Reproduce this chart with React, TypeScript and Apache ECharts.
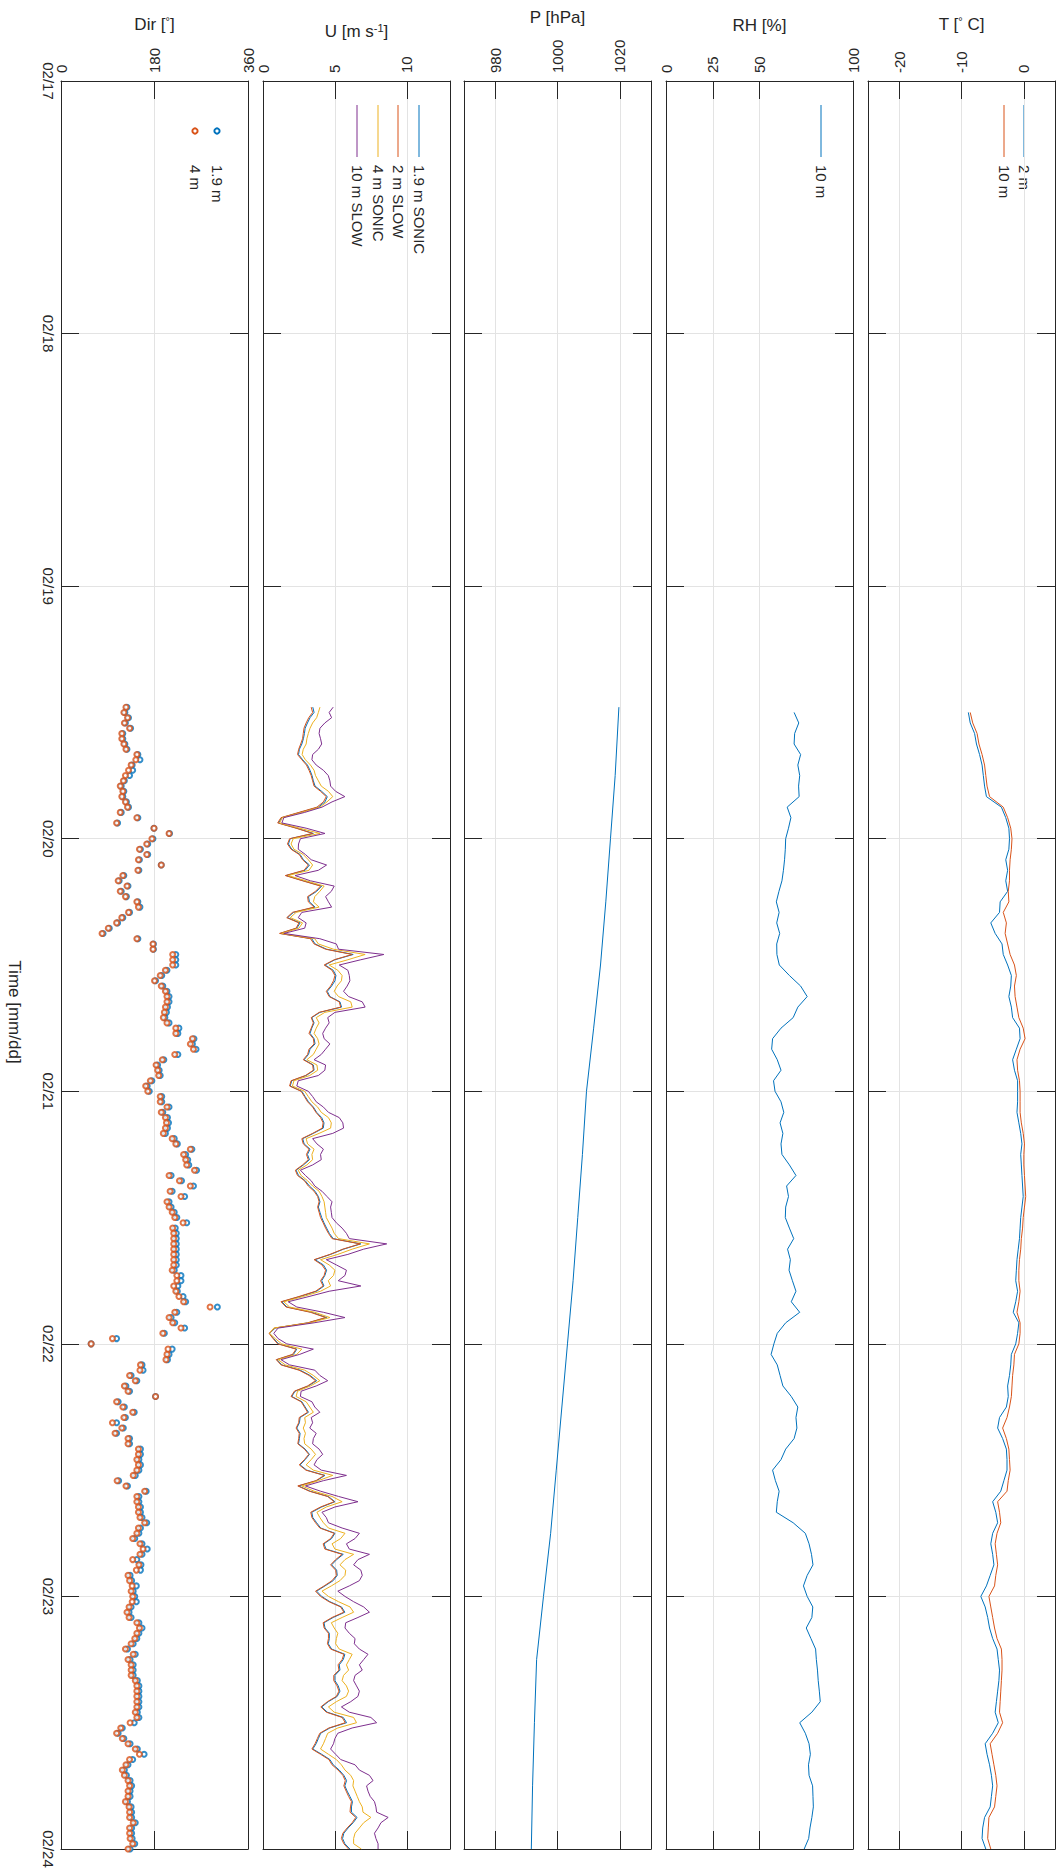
import React, { useEffect, useRef } from "react";
import * as echarts from "echarts";

// time axis: hours since 02/17 00:00
const DAY_LABELS = ["02/17", "02/18", "02/19", "02/20", "02/21", "02/22", "02/23", "02/24"];
const HALF_HOUR_START = 59.5;
const HALF_HOUR_STEP = 0.5;
const HOURLY_START = 60;
const HOURLY_STEP = 1;

const T_2M = [
  -8.9, -8.6, -7.9, -7.6, -7.1, -6.7, -6.5, -6.3, -6.0, -3.6,
  -2.9, -2.4, -2.3, -2.4, -2.9, -2.6, -2.9, -2.6, -3.8, -3.9,
  -5.3, -4.6, -3.5, -3.3, -2.6, -2.0, -2.1, -2.4, -2.0, -1.8,
  -0.7, -0.6, -1.2, -1.8, -1.5, -1.0, -1.0, -1.0, -1.1, -0.8,
  -0.5, -0.3, -0.5, -0.4, -0.3, -0.2, -0.1, -0.3, -0.5, -0.6,
  -0.7, -0.9, -1.1, -1.2, -1.3, -1.0, -1.3, -1.7, -0.8, -1.0,
  -1.3, -2.0, -2.1, -2.3, -2.6, -2.5, -2.8, -3.9, -4.2, -3.4,
  -2.8, -2.7, -2.7, -3.2, -3.7, -5.0, -4.5, -4.2, -5.0, -5.3,
  -5.0, -4.8, -5.4, -6.0, -6.9, -6.2, -5.8, -5.5, -5.0, -4.3,
  -4.1, -3.9, -4.0, -4.2, -4.4, -4.6, -4.1, -5.0, -6.2, -5.9,
  -5.5, -5.2, -5.0, -5.2, -5.4, -6.3, -6.6, -6.7, -6.1,
];
const T_10M = [
  -8.6, -8.2, -7.5, -7.2, -6.7, -6.3, -6.1, -5.9, -5.5, -3.3,
  -2.6, -2.1, -1.9, -2.0, -2.2, -2.3, -2.3, -2.5, -2.4, -3.3,
  -2.8, -3.0, -2.6, -2.2, -1.5, -1.2, -1.5, -1.4, -1.1, -0.8,
  -0.1, 0.2, -0.6, -1.1, -1.0, -0.7, -0.6, -0.6, -0.6, -0.4,
  -0.1, 0.1, 0.0, 0.0, 0.1, 0.2, 0.3, 0.1, -0.1, -0.2,
  -0.4, -0.5, -0.7, -0.8, -0.8, -0.6, -0.8, -1.1, -0.6, -0.6,
  -0.8, -1.5, -1.6, -1.8, -1.9, -2.0, -2.3, -2.7, -3.4, -2.8,
  -2.4, -2.3, -2.2, -2.5, -2.7, -4.2, -3.9, -3.7, -4.3, -4.6,
  -4.4, -4.2, -4.5, -4.7, -5.6, -5.3, -5.0, -4.7, -4.3, -3.6,
  -3.5, -3.5, -3.6, -3.7, -3.8, -3.9, -3.4, -4.2, -5.4, -5.1,
  -4.8, -4.5, -4.3, -4.5, -4.7, -5.6, -5.7, -5.8, -5.3,
];
const RH_10M = [
  68.5, 71.0, 68.8, 68.5, 72.0, 70.5, 71.5, 70.9, 71.2, 64.8,
  66.8, 65.5, 64.0, 63.8, 63.4, 62.8, 62.0, 60.4, 59.0, 60.5,
  59.2, 60.8, 59.2, 59.3, 60.6, 66.0, 72.0, 75.5, 70.5, 68.0,
  61.5, 57.0, 56.5, 59.5, 61.5, 57.5, 58.3, 61.5, 63.0, 61.0,
  62.5, 61.5, 62.0, 66.0, 69.5, 64.5, 65.5, 64.0, 63.8, 66.0,
  68.3, 65.0, 66.5, 65.8, 67.6, 69.5, 67.0, 71.5, 64.0, 59.5,
  57.7, 56.2, 59.5, 61.0, 62.5, 67.0, 70.5, 69.5, 70.0, 68.5,
  64.0, 61.5, 57.0, 58.5, 60.5, 59.5, 59.0, 68.0, 74.5, 76.5,
  77.8, 78.6, 75.5, 73.5, 75.5, 78.5, 78.0, 75.0, 77.5, 80.0,
  80.4, 81.0, 81.4, 82.0, 82.5, 78.0, 71.5, 74.5, 76.5, 77.2,
  76.2, 76.5, 78.4, 78.6, 78.8, 78.0, 77.0, 76.3, 73.9,
];
const P_HOURS = [59.5, 66, 72, 78, 84, 90, 96, 102, 108, 114, 120, 126, 132, 138, 144, 150, 156, 162, 168];
const P_10M = [1019.7, 1018.5, 1017.0, 1015.5, 1013.8, 1011.6, 1009.3, 1008.0, 1006.5, 1005.0, 1003.2, 1001.4, 999.6, 997.8, 995.5, 993.3, 992.6, 992.0, 991.6];

const U_19_SONIC = [
  3.46, 3.55, 3.27, 3.09, 2.93, 2.88, 2.81, 2.70, 2.53, 2.47, 2.76, 3.09, 3.27, 3.41, 3.50, 3.62, 4.08, 4.47, 4.31, 3.85,
  2.58, 1.31, 1.08, 2.35, 3.50, 1.89, 1.77, 2.00, 2.58, 2.81, 3.23, 2.93, 1.61, 2.81, 4.08, 3.73, 3.16, 3.23, 3.62, 2.12,
  1.70, 2.58, 2.35, 1.20, 3.39, 3.62, 4.42, 6.27, 5.00, 4.31, 4.88, 5.07, 5.00, 4.77, 4.47, 4.65, 5.35, 5.46, 3.96, 3.39,
  3.55, 3.39, 3.27, 3.55, 3.62, 3.27, 3.16, 2.86, 3.50, 3.55, 3.00, 2.00, 1.89, 2.70, 2.93, 3.16, 3.50, 3.73, 4.08, 4.24,
  4.19, 3.50, 2.76, 2.86, 3.27, 3.09, 3.23, 2.81, 2.30, 2.47, 2.93, 3.23, 3.62, 3.85, 3.96, 3.85, 3.96, 4.08, 4.24, 4.42,
  4.61, 4.88, 6.80, 5.60, 4.70, 3.62, 4.20, 4.42, 4.30, 4.08, 4.24, 3.73, 2.58, 1.31, 1.66, 3.39, 4.42, 3.16, 0.85, 0.46,
  0.74, 1.08, 2.35, 2.12, 0.97, 1.31, 2.58, 3.27, 3.73, 3.16, 2.23, 2.00, 2.70, 2.93, 3.16, 2.58, 2.53, 2.35, 2.58, 2.53,
  2.47, 2.93, 3.23, 2.93, 2.58, 3.04, 4.31, 3.73, 2.47, 3.27, 4.54, 5.00, 4.08, 3.39, 3.46, 3.73, 4.01, 5.00, 4.77, 4.24,
  4.38, 5.58, 5.12, 4.77, 5.12, 5.16, 4.88, 4.31, 3.73, 4.08, 4.65, 5.46, 5.69, 4.88, 4.24, 4.31, 4.61, 4.61, 4.54, 4.77,
  5.69, 5.58, 5.30, 5.35, 5.00, 5.00, 5.23, 5.35, 5.16, 4.54, 4.08, 4.47, 5.58, 5.81, 4.65, 4.01, 3.85, 3.69, 3.46, 4.08,
  4.65, 4.88, 5.30, 5.62, 5.81, 5.69, 5.85, 6.04, 6.22, 6.15, 6.15, 6.54, 6.27, 5.92, 5.62, 5.53, 5.69, 6.04,
];
const U_2_SLOW = [
  3.35, 3.45, 3.18, 3.00, 2.85, 2.80, 2.75, 2.62, 2.48, 2.40, 2.70, 3.02, 3.20, 3.35, 3.45, 3.55, 4.00, 4.40, 4.20, 3.75,
  2.50, 1.25, 1.02, 2.30, 3.45, 1.85, 1.70, 1.95, 2.52, 2.75, 3.15, 2.85, 1.55, 2.75, 4.00, 3.65, 3.10, 3.15, 3.55, 2.05,
  1.65, 2.50, 2.30, 1.15, 3.30, 3.55, 4.35, 6.20, 4.95, 4.25, 4.80, 5.00, 4.90, 4.70, 4.40, 4.60, 5.30, 5.40, 3.90, 3.35,
  3.50, 3.35, 3.20, 3.50, 3.55, 3.20, 3.10, 2.80, 3.45, 3.50, 2.95, 1.95, 1.85, 2.65, 2.88, 3.10, 3.45, 3.68, 4.00, 4.18,
  4.12, 3.45, 2.70, 2.80, 3.20, 3.02, 3.15, 2.75, 2.25, 2.40, 2.88, 3.15, 3.55, 3.80, 3.90, 3.80, 3.90, 4.00, 4.18, 4.35,
  4.55, 4.80, 6.75, 5.55, 4.65, 3.55, 4.10, 4.35, 4.25, 4.00, 4.18, 3.65, 2.50, 1.25, 1.60, 3.30, 4.35, 3.10, 0.80, 0.42,
  0.70, 1.02, 2.30, 2.05, 0.92, 1.25, 2.50, 3.20, 3.65, 3.10, 2.18, 1.95, 2.65, 2.88, 3.10, 2.52, 2.48, 2.30, 2.52, 2.48,
  2.42, 2.88, 3.18, 2.88, 2.52, 2.98, 4.25, 3.68, 2.42, 3.22, 4.48, 4.95, 4.00, 3.32, 3.40, 3.65, 3.95, 4.95, 4.70, 4.18,
  4.30, 5.50, 5.05, 4.70, 5.05, 5.10, 4.80, 4.25, 3.65, 4.00, 4.58, 5.40, 5.62, 4.80, 4.18, 4.25, 4.55, 4.55, 4.48, 4.70,
  5.62, 5.50, 5.22, 5.28, 4.92, 4.92, 5.15, 5.28, 5.10, 4.48, 4.02, 4.40, 5.50, 5.72, 4.58, 3.95, 3.78, 3.62, 3.40, 4.00,
  4.58, 4.80, 5.22, 5.55, 5.72, 5.62, 5.78, 5.95, 6.15, 6.08, 6.05, 6.45, 6.20, 5.85, 5.55, 5.45, 5.62, 5.95,
];
const U_4_SONIC = [
  3.96, 3.85, 3.73, 3.45, 3.27, 3.15, 3.05, 3.00, 2.80, 2.72, 2.95, 3.30, 3.55, 3.65, 3.85, 4.05, 4.55, 4.85, 4.45, 3.95,
  2.70, 1.35, 1.15, 2.55, 3.96, 2.10, 1.95, 2.15, 2.80, 3.15, 3.45, 3.20, 1.75, 3.00, 4.25, 3.95, 3.60, 3.50, 3.90, 2.30,
  1.90, 2.75, 2.50, 1.30, 3.60, 3.85, 4.90, 7.10, 5.90, 4.60, 5.20, 5.50, 5.45, 5.15, 4.95, 5.25, 6.10, 6.20, 4.30, 3.70,
  3.90, 3.70, 3.55, 3.80, 3.90, 3.70, 3.50, 3.05, 3.75, 3.80, 3.25, 2.15, 2.05, 2.90, 3.15, 3.40, 3.80, 4.05, 4.55, 4.75,
  4.70, 3.90, 3.00, 3.10, 3.55, 3.40, 3.45, 3.05, 2.45, 2.65, 3.10, 3.45, 3.90, 4.10, 4.25, 4.30, 4.35, 4.40, 4.60, 4.80,
  4.95, 5.25, 7.40, 6.20, 5.20, 4.00, 4.60, 5.00, 4.90, 4.54, 4.70, 4.00, 2.80, 1.45, 1.85, 3.60, 4.65, 3.30, 0.75, 0.45,
  0.85, 1.30, 2.70, 2.35, 1.05, 1.55, 2.90, 3.50, 3.95, 3.30, 2.40, 2.30, 3.00, 3.25, 3.50, 2.90, 2.95, 2.80, 2.95, 2.85,
  2.90, 3.35, 3.65, 3.35, 3.00, 3.50, 4.85, 3.85, 2.70, 3.55, 4.80, 5.50, 4.40, 3.75, 3.95, 4.20, 4.55, 5.70, 5.40, 4.80,
  5.00, 6.30, 5.70, 5.35, 5.75, 5.70, 5.35, 4.75, 4.10, 4.55, 5.25, 6.05, 6.30, 5.50, 4.75, 4.95, 5.20, 5.10, 5.05, 5.30,
  6.20, 6.00, 5.80, 5.95, 5.60, 5.50, 5.80, 5.95, 5.80, 5.10, 4.55, 4.95, 6.30, 6.50, 5.20, 4.50, 4.35, 4.20, 4.00, 4.55,
  5.10, 5.45, 5.70, 6.10, 6.30, 6.25, 6.40, 6.55, 6.70, 6.90, 6.95, 7.50, 7.00, 6.70, 6.40, 6.30, 6.30, 6.84,
];
const U_10_SLOW = [
  4.88, 4.60, 4.77, 4.30, 3.96, 3.90, 4.00, 4.08, 3.85, 3.45, 3.40, 3.70, 4.20, 4.54, 4.65, 4.70, 5.05, 5.69, 4.80, 4.10,
  2.90, 1.45, 1.31, 3.00, 4.31, 2.60, 2.47, 2.45, 2.95, 3.35, 4.42, 3.85, 2.23, 3.30, 4.95, 4.75, 4.35, 4.55, 4.77, 2.70,
  2.45, 3.00, 2.90, 1.45, 3.95, 5.10, 5.25, 8.40, 6.80, 5.30, 5.90, 6.00, 6.04, 5.85, 5.60, 5.95, 6.90, 7.10, 5.00, 4.50,
  4.60, 4.35, 4.15, 4.25, 4.65, 4.35, 4.05, 3.55, 4.35, 4.30, 3.85, 2.45, 2.35, 3.15, 3.45, 3.70, 4.20, 4.55, 5.30, 5.55,
  5.60, 4.85, 3.45, 3.75, 4.20, 4.00, 4.05, 3.45, 2.60, 2.95, 3.35, 3.60, 4.10, 4.45, 4.80, 4.70, 4.75, 4.80, 5.10, 5.50,
  5.80, 6.00, 8.60, 7.00, 5.90, 4.40, 5.10, 5.80, 5.70, 5.23, 6.80, 4.60, 3.20, 1.75, 2.35, 4.20, 5.70, 3.55, 1.05, 0.75,
  1.05, 1.65, 3.50, 2.55, 1.25, 1.85, 3.60, 3.95, 4.50, 3.70, 2.65, 2.60, 3.40, 3.60, 3.95, 3.35, 3.45, 3.25, 3.70, 3.50,
  3.45, 3.90, 4.15, 3.75, 3.55, 4.05, 5.80, 4.20, 2.95, 4.00, 5.25, 6.60, 5.00, 4.10, 4.40, 4.55, 5.50, 6.70, 6.40, 5.80,
  6.00, 7.40, 6.60, 6.30, 6.80, 6.90, 6.70, 6.00, 5.20, 5.70, 6.30, 7.00, 7.40, 6.60, 5.75, 5.70, 6.00, 6.40, 6.35, 6.70,
  7.30, 7.00, 6.70, 6.90, 6.40, 6.30, 6.50, 6.70, 6.60, 6.10, 5.45, 6.00, 7.50, 7.90, 6.20, 5.20, 5.00, 4.90, 4.70, 5.05,
  5.40, 6.40, 6.70, 7.40, 7.65, 7.20, 7.30, 7.45, 7.75, 7.85, 7.90, 8.70, 8.20, 8.00, 7.75, 7.85, 8.00, 8.00,
];

const DIR_19M = [
  127, 123, 130, 124, 134, 119, 119, 123, 127, 148, 152, 137, 138, 132, 122, 116, 121, 119, 126, 130,
  116, 148, 109, 179, 209, 177, 167, 153, 167, 151, 193, 150, 121, 112, 129, 116, 126, 148, 152, 132,
  119, 109, 93, 81, 148, 178, 178, 221, 221, 221, 204, 194, 182, 196, 204, 208, 208, 205, 203, 200,
  208, 227, 225, 256, 253, 260, 225, 198, 186, 189, 191, 175, 166, 170, 194, 194, 208, 196, 205, 207,
  205, 201, 218, 224, 252, 240, 244, 246, 261, 212, 232, 255, 214, 238, 208, 212, 218, 223, 242, 220,
  222, 222, 222, 222, 222, 222, 222, 218, 231, 231,
  225, 224, 235, 240, 301, 223, 212, 219, 238, 199, 107, 58, 214, 208, 205, 156, 158, 135, 146, 125,
  132, 182, 110, 122, 141, 124, 107, 120, 107, 132, 132, 153, 153, 150, 153, 150, 143, 111, 128, 164,
  150, 150, 153, 153, 156, 165, 153, 150, 142, 156, 166, 156, 146, 154, 153, 133, 136, 145, 139, 142,
  145, 135, 131, 135, 150, 156, 150, 146, 139, 128, 143, 133, 139, 139, 139, 147, 150, 150, 150, 150,
  150, 147, 150, 141, 118, 110, 121, 133, 147, 160, 138, 129, 122, 126, 133, 136, 133, 133, 128, 135,
  136, 136, 143, 136, 136, 137, 142, 133,
];
const DIR_4M = [
  125, 121, 128, 122, 132, 117, 117, 121, 125, 146, 144, 135, 130, 124, 120, 114, 119, 117, 124, 128,
  114, 146, 107, 179, 208, 175, 165, 151, 165, 149, 193, 148, 119, 110, 127, 114, 124, 146, 149, 130,
  117, 107, 91, 79, 146, 177, 177, 215, 215, 215, 201, 191, 180, 193, 201, 204, 204, 201, 199, 197,
  204, 221, 221, 253, 249, 255, 219, 195, 183, 186, 188, 172, 163, 167, 191, 191, 204, 193, 201, 203,
  201, 197, 214, 221, 249, 236, 240, 242, 257, 208, 228, 249, 210, 231, 204, 208, 214, 219, 235, 215,
  217, 217, 217, 217, 217, 217, 217, 214, 223, 223,
  217, 221, 227, 236, 287, 219, 208, 215, 231, 196, 99, 58, 206, 204, 202, 153, 152, 132, 143, 122,
  129, 182, 107, 119, 138, 121, 99, 117, 104, 129, 129, 149, 149, 146, 149, 146, 139, 108, 125, 161,
  146, 146, 149, 149, 152, 161, 149, 146, 138, 152, 158, 152, 138, 150, 145, 129, 132, 137, 135, 138,
  137, 131, 127, 131, 146, 151, 146, 142, 135, 124, 139, 129, 135, 135, 135, 143, 146, 146, 146, 146,
  146, 143, 146, 133, 115, 107, 118, 129, 143, 151, 132, 125, 118, 122, 129, 132, 129, 129, 124, 131,
  132, 132, 139, 132, 132, 133, 138, 129,
];

const BLUE = "#0072BD";
const ORANGE = "#D95319";
const YELLOW = "#EDB120";
const PURPLE = "#7E2F8E";
const AX = "#262626";
const GRIDC = "#e3e3e3";
const FONT = "'Liberation Sans', Arial, Helvetica, sans-serif";

const TOP = 81;
const HEIGHT = 1768;
const WIDTH = 187;

const PANELS = [
  { left: 61, min: 0, max: 360, ticks: [0, 180, 360], name: "Dir [{sup|°}]", gap: 47 },
  { left: 263, min: 0, max: 13, ticks: [0, 5, 10], name: "U [m s{sup|-1}]", gap: 40 },
  { left: 464, min: 970, max: 1030, ticks: [980, 1000, 1020], name: "P [hPa]", gap: 55 },
  { left: 666, min: 0, max: 100, ticks: [0, 25, 50, 100], name: "RH [%]", gap: 47 },
  { left: 868, min: -25, max: 5, ticks: [-20, -10, 0], name: "T [{sup|°} C]", gap: 47 },
];

const withTime = (vals: number[], start: number, step: number) => vals.map((v, i) => [v, start + i * step]);

function buildOption() {
  const grid = PANELS.map((p) => ({ left: p.left, top: TOP, width: WIDTH, height: HEIGHT, show: false }));
  const xAxis: any[] = [];
  const yAxis: any[] = [];
  PANELS.forEach((p, i) => {
    xAxis.push({
      gridIndex: i, type: "value", position: "top", min: p.min, max: p.max,
      axisLine: { show: true, onZero: false, lineStyle: { color: AX, width: 1 } },
      axisTick: { show: true, inside: true, length: 18, customValues: p.ticks, lineStyle: { color: AX } },
      axisLabel: {
        show: true, customValues: p.ticks, rotate: -90, margin: 8, fontSize: 15, color: AX, fontFamily: FONT,
        formatter: (v: number) => String(v),
      },
      splitLine: { show: true, lineStyle: { color: GRIDC, width: 1 } },
      name: p.name, nameLocation: "middle", nameGap: p.gap,
      nameTextStyle: {
        fontSize: 17, color: AX, fontFamily: FONT,
        rich: { sup: { fontSize: 11, color: AX, fontFamily: FONT, padding: [0, 0, 8, 0] } },
      },
    });
    xAxis.push({
      gridIndex: i, type: "value", position: "bottom", min: p.min, max: p.max,
      axisLine: { show: true, onZero: false, lineStyle: { color: AX, width: 1 } },
      axisTick: { show: true, inside: true, length: 18, customValues: p.ticks, lineStyle: { color: AX } },
      axisLabel: { show: false },
      splitLine: { show: false },
    });
    yAxis.push({
      gridIndex: i, type: "value", position: "left", inverse: true, min: 0, max: 168, interval: 24,
      axisLine: { show: true, onZero: false, lineStyle: { color: AX, width: 1 } },
      axisTick: { show: true, inside: true, length: 18, lineStyle: { color: AX } },
      axisLabel: {
        show: i === 0, rotate: -90, margin: 5, fontSize: 15, color: AX, fontFamily: FONT,
        align: "center", verticalAlign: "top",
        formatter: (v: number) => DAY_LABELS[Math.round(v / 24)],
      },
      splitLine: { show: true, lineStyle: { color: GRIDC, width: 1 } },
    });
    yAxis.push({
      gridIndex: i, type: "value", position: "right", inverse: true, min: 0, max: 168, interval: 24,
      axisLine: { show: true, onZero: false, lineStyle: { color: AX, width: 1 } },
      axisTick: { show: true, inside: true, length: 18, lineStyle: { color: AX } },
      axisLabel: { show: false },
      splitLine: { show: false },
    });
  });

  const line = (name: string, data: number[][], color: string, panel: number) => ({
    name, type: "line", data, xAxisIndex: panel * 2, yAxisIndex: panel * 2,
    showSymbol: false, symbol: "none", lineStyle: { color, width: 1 }, itemStyle: { color },
  });
  const scatter = (name: string, data: number[][], color: string) => ({
    name, type: "scatter", data, xAxisIndex: 0, yAxisIndex: 0,
    symbol: "emptyCircle", symbolSize: 5, itemStyle: { color, borderColor: color, borderWidth: 2 },
  });

  const series = [
    scatter("1.9 m", withTime(DIR_19M, HALF_HOUR_START, HALF_HOUR_STEP), BLUE),
    scatter("4 m", withTime(DIR_4M, HALF_HOUR_START, HALF_HOUR_STEP), ORANGE),
    line("1.9 m SONIC", withTime(U_19_SONIC, HALF_HOUR_START, HALF_HOUR_STEP), BLUE, 1),
    line("2 m SLOW", withTime(U_2_SLOW, HALF_HOUR_START, HALF_HOUR_STEP), ORANGE, 1),
    line("4 m SONIC", withTime(U_4_SONIC, HALF_HOUR_START, HALF_HOUR_STEP), YELLOW, 1),
    line("10 m SLOW", withTime(U_10_SLOW, HALF_HOUR_START, HALF_HOUR_STEP), PURPLE, 1),
    line("P 10 m", P_10M.map((v, i) => [v, P_HOURS[i]]), BLUE, 2),
    line("RH 10 m", withTime(RH_10M, HOURLY_START, HOURLY_STEP), BLUE, 3),
    line("2 m", withTime(T_2M, HOURLY_START, HOURLY_STEP), BLUE, 4),
    line("10 m", withTime(T_10M, HOURLY_START, HOURLY_STEP), ORANGE, 4),
  ];

  const txt = (x: number, text: string) => ({
    type: "text", x, y: 165, rotation: -Math.PI / 2, silent: true,
    style: { text, fontSize: 15, fontFamily: FONT, fill: AX, align: "left", verticalAlign: "middle", textAlign: "left", textVerticalAlign: "middle" },
  });
  const lg = (x: number, color: string) => ({
    type: "line", silent: true, shape: { x1: x, y1: 105, x2: x, y2: 157 }, style: { stroke: color, lineWidth: 1 },
  });
  const mk = (x: number, color: string) => ({
    type: "circle", silent: true, shape: { cx: x, cy: 131, r: 2.6 }, style: { fill: "#fff", stroke: color, lineWidth: 2 },
  });

  const graphic = [
    lg(1024, BLUE), txt(1024, "2 m"), lg(1004, ORANGE), txt(1004, "10 m"),
    lg(821, BLUE), txt(821, "10 m"),
    lg(419, BLUE), txt(419, "1.9 m SONIC"),
    lg(398, ORANGE), txt(398, "2 m SLOW"),
    lg(378, YELLOW), txt(378, "4 m SONIC"),
    lg(357, PURPLE), txt(357, "10 m SLOW"),
    mk(217, BLUE), txt(217, "1.9 m"), mk(195, ORANGE), txt(195, "4 m"),
    {
      type: "text", x: 14, y: 1012, rotation: -Math.PI / 2, silent: true,
      style: { text: "Time [mm/dd]", fontSize: 17, fontFamily: FONT, fill: AX, align: "center", verticalAlign: "middle", textAlign: "center", textVerticalAlign: "middle" },
    },
  ];

  return { animation: false, backgroundColor: "#ffffff", grid, xAxis, yAxis, series, graphic };
}

export default function App() {
  const ref = useRef<HTMLDivElement>(null);
  useEffect(() => {
    if (!ref.current) return;
    const chart = echarts.init(ref.current, undefined, { renderer: "svg" });
    chart.setOption(buildOption() as any);
    return () => chart.dispose();
  }, []);
  return <div ref={ref} style={{ position: "absolute", left: 0, top: 0, width: 1060, height: 1872, background: "#fff" }} />;
}
